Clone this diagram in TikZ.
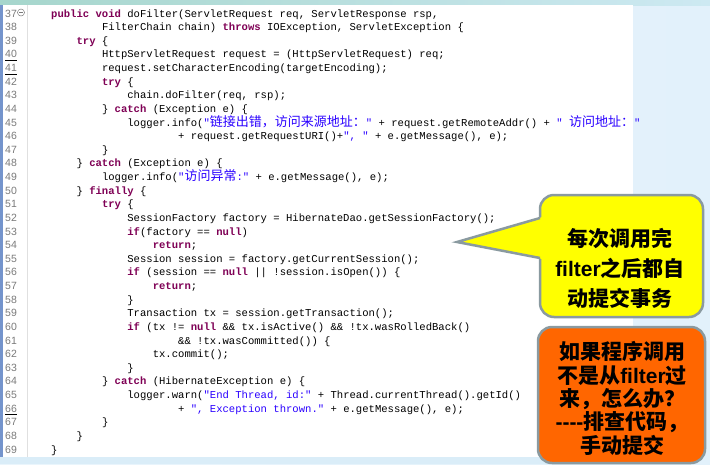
\documentclass[tikz,border=0pt]{standalone}
\usepackage{fontspec}
\setmonofont{Liberation Mono}
\newfontfamily\cjk{Noto Sans CJK SC}
\newfontfamily\lsans{Liberation Sans}
\definecolor{kwc}{HTML}{7F0055}
\definecolor{strc}{HTML}{2A00FF}
\definecolor{numc}{HTML}{7A7A7A}
\definecolor{bgblue}{HTML}{E2F1FB}
\definecolor{bgblue2}{HTML}{EAF5FC}
\definecolor{bandA}{HTML}{A6D6CC}
\definecolor{bandB}{HTML}{CDE9F2}
\definecolor{leftbar}{HTML}{7494CC}
\definecolor{bottomstrip}{HTML}{DAEDF8}
\definecolor{callyellow}{HTML}{FFFF00}
\definecolor{callorange}{HTML}{FF6600}
\definecolor{callborder}{HTML}{8A9AA0}
\newcommand\kw[1]{{\bfseries\color{kwc}#1}}
\newcommand\st[1]{{\color{strc}#1}}
\newcommand\zh[1]{{\fontsize{13}{13}\selectfont\cjk #1}}
\newcommand\fl[1]{{\lsans\bfseries #1}}
\tikzset{
  codetxt/.style={anchor=base west, inner sep=0pt, font=\fontsize{10.58}{12}\selectfont\ttfamily},
  numtxt/.style={anchor=base west, inner sep=0pt, text=numc, font=\fontsize{10.5}{12}\selectfont\lsans},
  calltxt/.style={align=center, inner sep=0pt, text=black},
  callbox/.style={draw=callborder, line width=2.5pt, rounded corners=14pt},
  uline/.style={line width=1.2pt, black},
}
\newcommand\codeline[3]{%
  \node[numtxt] (n#1) at (5,{17+(#1-37)*13.625}) {#1};
  \node[codetxt] (c#1) at ({51+#2*6.35},{17+(#1-37)*13.625}) {#3};}
\begin{document}
\begin{tikzpicture}[x=1pt,y=-1pt]
\useasboundingbox (0,0) rectangle (710,464);
% backgrounds
\shade[left color=bgblue2, right color=bgblue] (0,0) rectangle (710,464);
\shade[left color=bandA, right color=bandB] (0,0) rectangle (710,5);
\fill[white] (3,5) rectangle (633,457);
\fill[bottomstrip] (0,457) rectangle (633,464);
\fill[leftbar] (0,5) rectangle (3,457);
\draw[black!12, line width=0.6pt] (27,5) -- (27,457);
% fold marker
\node[draw=numc, circle, inner sep=0pt, minimum size=7pt, line width=0.5pt] (fold) at (21,12.5) {};
\draw[numc, line width=0.6pt] ([xshift=-2pt]fold.center) -- ([xshift=2pt]fold.center);
% code
\codeline{37}{0}{\kw{public void} doFilter(ServletRequest req, ServletResponse rsp,}
\codeline{38}{8}{FilterChain chain) \kw{throws} IOException, ServletException \{}
\codeline{39}{4}{\kw{try} \{}
\codeline{40}{8}{HttpServletRequest request = (HttpServletRequest) req;}
\codeline{41}{8}{request.setCharacterEncoding(targetEncoding);}
\codeline{42}{8}{\kw{try} \{}
\codeline{43}{12}{chain.doFilter(req, rsp);}
\codeline{44}{8}{\} \kw{catch} (Exception e) \{}
\codeline{45}{12}{logger.info(\st{"\zh{链接出错，访问来源地址：}"} + request.getRemoteAddr() + \st{" \zh{访问地址：}"}}
\codeline{46}{20}{+ request.getRequestURI()+\st{", "} + e.getMessage(), e);}
\codeline{47}{8}{\}}
\codeline{48}{4}{\} \kw{catch} (Exception e) \{}
\codeline{49}{8}{logger.info(\st{"\zh{访问异常}:"} + e.getMessage(), e);}
\codeline{50}{4}{\} \kw{finally} \{}
\codeline{51}{8}{\kw{try} \{}
\codeline{52}{12}{SessionFactory factory = HibernateDao.getSessionFactory();}
\codeline{53}{12}{\kw{if}(factory == \kw{null})}
\codeline{54}{16}{\kw{return};}
\codeline{55}{12}{Session session = factory.getCurrentSession();}
\codeline{56}{12}{\kw{if} (session == \kw{null} || !session.isOpen()) \{}
\codeline{57}{16}{\kw{return};}
\codeline{58}{12}{\}}
\codeline{59}{12}{Transaction tx = session.getTransaction();}
\codeline{60}{12}{\kw{if} (tx != \kw{null} \&\& tx.isActive() \&\& !tx.wasRolledBack()}
\codeline{61}{20}{\&\& !tx.wasCommitted()) \{}
\codeline{62}{16}{tx.commit();}
\codeline{63}{12}{\}}
\codeline{64}{8}{\} \kw{catch} (HibernateException e) \{}
\codeline{65}{12}{logger.warn(\st{"End Thread, id:"} + Thread.currentThread().getId()}
\codeline{66}{20}{+ \st{", Exception thrown."} + e.getMessage(), e);}
\codeline{67}{8}{\}}
\codeline{68}{4}{\}}
\codeline{69}{0}{\}}
% underlines under line numbers
\draw[uline] ([yshift=-2.6pt]n40.base west) -- ++(12,0);
\draw[uline] ([yshift=-2.6pt]n41.base west) -- ++(12,0);
\draw[uline] ([yshift=-2.6pt]n66.base west) -- ++(12,0);
% yellow callout
\draw[callbox, fill=callyellow] (540,195) rectangle (703,317);
\fill[callyellow] (542.5,217) -- (457,242) -- (542.5,259) -- cycle;
\draw[callborder, line width=2.5pt, line join=miter] (540,218) coordinate (pa) -- (457,242) coordinate (ptip) -- (540,258) coordinate (pb);
\node[calltxt, font=\fontsize{21}{30}\selectfont\cjk\bfseries] (yt) at (620,268)
  {每次调用完\\\fl{filter}之后都自\\动提交事务};
% orange callout
\draw[callbox, fill=callorange] (538,327) rectangle (705,463);
\node[calltxt, font=\fontsize{21}{23.3}\selectfont\cjk\bfseries] (ot) at (622,398.5)
  {如果程序调用\\不是从\fl{filter}过\\来，怎么办？\\\fl{-{}-{}-{}-}排查代码，\\手动提交};
\end{tikzpicture}
\end{document}
